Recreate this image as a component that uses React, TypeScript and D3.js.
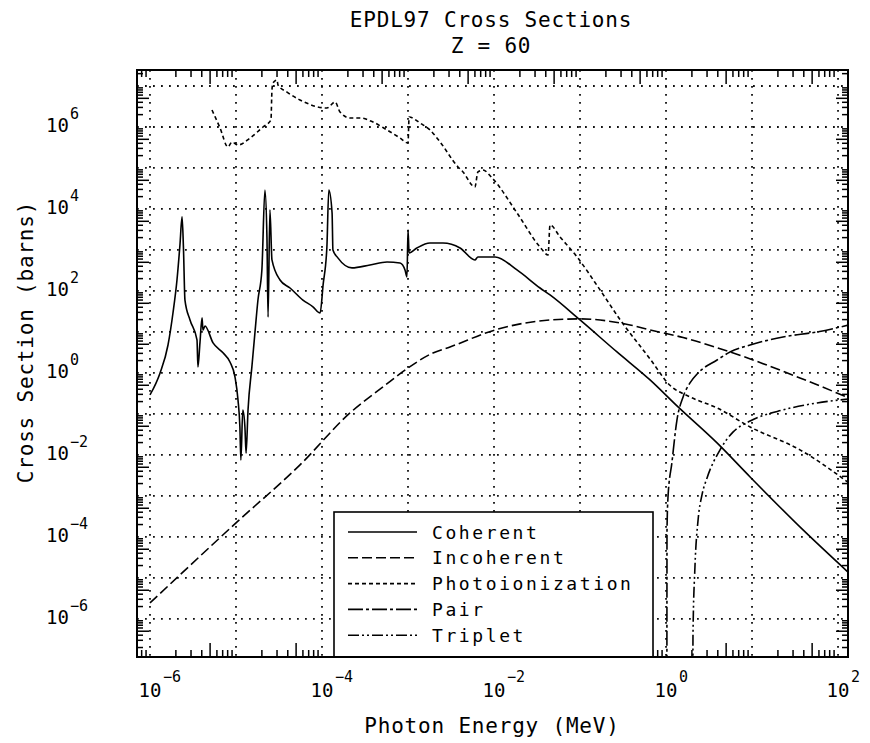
import React from 'react'
import * as d3 from 'd3'

type Pt = [number, number] // [photon energy (MeV), cross section (barns)]

const titleLines = ['EPDL97 Cross Sections', 'Z = 60']
const xTitle = 'Photon Energy (MeV)'
const yTitle = 'Cross Section (barns)'

// decade exponents used for labels and grid
const xLabelExps = [-6, -4, -2, 0, 2]
const yLabelExps = [6, 4, 2, 0, -2, -4, -6]
const xGridExps = [-6, -5, -4, -3, -2, -1, 0, 1, 2]
const yGridExps = [-6, -5, -4, -3, -2, -1, 0, 1, 2, 3, 4, 5, 6, 7]

const coherent: Pt[] = [
  [1.0e-6, 0.29], [1.31e-6, 1.0], [1.62e-6, 4.8], [1.85e-6, 29], [2.06e-6, 185],
  [2.23e-6, 1320], [2.36e-6, 6400], [2.45e-6, 1120], [2.55e-6, 60], [2.92e-6, 19.6],
  [3.52e-6, 6.4], [3.61e-6, 1.4], [3.81e-6, 5.4], [4.03e-6, 22], [4.13e-6, 11],
  [4.36e-6, 14], [5.41e-6, 5.4], [7.06e-6, 3.1], [8.51e-6, 1.85], [9.73e-6, 0.8],
  [1.055e-5, 0.22], [1.11e-5, 0.048], [1.14e-5, 0.0075], [1.2e-5, 0.125], [1.27e-5, 0.048],
  [1.31e-5, 0.011], [1.38e-5, 0.125], [1.53e-5, 1.4], [1.66e-5, 9.5], [1.8e-5, 60],
  [2.0e-5, 325], [2.17e-5, 29000], [2.29e-5, 2080], [2.36e-5, 23], [2.48e-5, 9500],
  [2.62e-5, 570], [3.25e-5, 185], [4.25e-5, 118], [6.0e-5, 60], [7.85e-5, 41],
  [9.5e-5, 29], [1.03e-4, 140], [1.14e-4, 1180], [1.2e-4, 29000], [1.31e-4, 8000],
  [1.34e-4, 1000], [1.53e-4, 640], [2.23e-4, 365], [3.61e-4, 430], [5.7e-4, 510],
  [8.07e-4, 480], [9.23e-4, 325], [9.73e-4, 220], [1.0e-3, 3100], [1.03e-3, 845],
  [1.27e-3, 1120], [1.8e-3, 1480], [2.55e-3, 1480], [4.03e-3, 1120], [6.0e-3, 570],
  [6.5e-3, 675], [1.03e-2, 675], [1.85e-2, 325], [3.43e-2, 118], [4.48e-2, 80],
  [0.1, 19.6], [0.269, 3.25], [0.652, 0.675], [1.38, 0.148], [3.92, 0.0196],
  [9.5, 0.0029], [39.2, 1.48e-4], [134, 1.32e-5],
]

const incoherent: Pt[] = [
  [1.0e-6, 2.45e-6], [1.03e-5, 2.32e-4], [5.55e-5, 5.7e-3], [2.12e-4, 0.106], [5.12e-4, 0.456],
  [1.0e-3, 1.32], [1.95e-3, 3.07], [3.08e-3, 4.3], [1.03e-2, 11.2], [4.48e-2, 19.6],
  [0.1, 20.8], [0.381, 14.8], [0.652, 11.2], [1.58, 7.3], [5.55, 3.25],
  [36.1, 0.755], [134, 0.245],
]

const photoionization: Pt[] = [
  [5.26e-6, 2.6e6], [6.52e-6, 9.5e5], [8.07e-6, 3.25e5], [8.98e-6, 4.3e5], [1.055e-5, 3.64e5],
  [1.46e-5, 5.4e5], [2.06e-5, 1.0e6], [2.55e-5, 1.48e6], [2.62e-5, 8.0e6], [2.69e-5, 1.18e7],
  [3.0e-5, 1.4e7], [3.08e-5, 1.06e7], [3.92e-5, 7.1e6], [5.55e-5, 4.56e6], [1.14e-4, 2.9e6],
  [1.42e-4, 4.07e6], [1.62e-4, 2.32e6], [2.12e-4, 1.66e6], [2.77e-4, 1.66e6], [3.92e-4, 1.32e6],
  [5.7e-4, 8.45e5], [8.07e-4, 5.4e5], [1.0e-3, 4.07e5], [1.03e-3, 1.75e6], [1.38e-3, 1.25e6],
  [1.8e-3, 8.45e5], [2.36e-3, 4.3e5], [3.81e-3, 1.06e5], [4.36e-3, 8.0e4], [6.0e-3, 3.44e4],
  [6.5e-3, 8.0e4], [7.45e-3, 8.9e4], [9.5e-3, 5.7e4], [1.85e-2, 8.0e3], [3.43e-2, 1.18e3],
  [4.25e-2, 755], [4.48e-2, 4.07e3], [5.85e-2, 2.08e3], [9.23e-2, 675], [0.171, 106],
  [0.292, 20], [0.652, 2.2], [1.11, 0.5], [1.9, 0.26], [3.92, 0.14],
  [9.5, 0.048], [36.1, 0.0133], [134, 2.07e-3],
]

const pair: Pt[] = [
  [1.023, 1e-9], [1.027, 1.48e-4], [1.055, 9.5e-4], [1.17, 6.4e-3], [1.34, 0.071],
  [1.58, 0.26], [1.9, 0.57], [2.36, 1.0], [3.92, 2.07], [5.55, 3.25],
  [9.5, 4.8], [22.9, 7.55], [57, 10], [134, 14.8],
]

const triplet: Pt[] = [
  [2.045, 1e-9], [2.06, 4.5e-7], [2.17, 1.85e-5], [2.36, 2.6e-4], [2.62, 1.06e-3],
  [3.0, 2.75e-3], [4.25, 0.0133], [6.0, 0.036], [9.5, 0.067], [22.9, 0.125],
  [57, 0.185], [134, 0.232],
]

const seriesNames = ['Coherent', 'Incoherent', 'Photoionization', 'Pair', 'Triplet']
const seriesData = [coherent, incoherent, photoionization, pair, triplet]
const seriesDash = ['none', '10,4', '4,3', '15,3,3,3', '11,3,2,3,2,3']

const font = "'DejaVu Sans Mono', monospace"

const expText = (e: number) => (e < 0 ? '\u2212' + Math.abs(e) : String(e))

export default function App() {
  const width = 870
  const height = 743
  const left = 137, right = 848, top = 70, bottom = 657

  const x = d3.scaleLog().domain([10 ** -6.151, 10 ** 2.116]).range([left, right])
  const y = d3.scaleLog().domain([10 ** -6.93, 10 ** 7.39]).range([bottom, top])

  const line = d3.line<Pt>()
    .x(d => x(d[0]))
    .y(d => y(d[1]))
    .curve(d3.curveMonotoneX)

  // minor ticks 2..9 in each decade
  const minor = (scale: d3.ScaleLogarithmic<number, number>) => {
    const [d0, d1] = scale.domain()
    const out: { v: number, long: boolean }[] = []
    for (let k = Math.floor(Math.log10(d0)); k <= Math.ceil(Math.log10(d1)); k++) {
      for (let m = 2; m <= 9; m++) {
        const v = m * 10 ** k
        if (v > d0 && v < d1) out.push({ v, long: m === 5 })
      }
    }
    return out
  }
  const xMinor = minor(x)
  const yMinor = minor(y)

  const legend = { x0: 334, y0: 512, x1: 653, row: 25.8 }

  return (
    <svg width={width} height={height} style={{ position: 'absolute', left: 0, top: 0, background: '#fff' }}
      fontFamily={font}>
      <defs>
        <clipPath id="plot">
          <rect x={left} y={top} width={right - left} height={bottom - top} />
        </clipPath>
      </defs>

      {/* title */}
      {titleLines.map((t, i) => (
        <text key={t} x={491} y={27 + i * 26} textAnchor="middle" fontSize={21} letterSpacing={0.8}>{t}</text>
      ))}

      {/* dotted grid */}
      <g stroke="#111" strokeWidth={1.8} strokeDasharray="1.8,6.2">
        {xGridExps.map(e => (
          <line key={'gx' + e} x1={x(10 ** e)} x2={x(10 ** e)} y1={top} y2={bottom} />
        ))}
        {yGridExps.map(e => (
          <line key={'gy' + e} x1={left} x2={right} y1={y(10 ** e)} y2={y(10 ** e)} />
        ))}
      </g>

      {/* curves */}
      <g clipPath="url(#plot)" fill="none" stroke="#000" strokeWidth={1.6}>
        {seriesData.map((d, i) => (
          <path key={seriesNames[i]} d={line(d) ?? ''} strokeDasharray={seriesDash[i]} />
        ))}
      </g>

      {/* ticks */}
      <g stroke="#000" strokeWidth={1.5}>
        {xMinor.map(t => (
          <g key={'tx' + t.v}>
            <line x1={x(t.v)} x2={x(t.v)} y1={bottom} y2={bottom - (t.long ? 14 : 7)} />
            <line x1={x(t.v)} x2={x(t.v)} y1={top} y2={top + (t.long ? 14 : 7)} />
          </g>
        ))}
        {yMinor.map(t => (
          <g key={'ty' + t.v}>
            <line x1={left} x2={left + (t.long ? 12 : 6)} y1={y(t.v)} y2={y(t.v)} />
            <line x1={right} x2={right - (t.long ? 12 : 6)} y1={y(t.v)} y2={y(t.v)} />
          </g>
        ))}
      </g>

      {/* legend */}
      <rect x={legend.x0} y={legend.y0} width={legend.x1 - legend.x0} height={bottom - legend.y0}
        fill="#fff" stroke="#000" strokeWidth={1.6} />
      {seriesNames.map((name, i) => {
        const cy = legend.y0 + 20 + i * legend.row
        return (
          <g key={'lg' + name}>
            <line x1={348} x2={417} y1={cy} y2={cy} stroke="#000" strokeWidth={1.6}
              strokeDasharray={seriesDash[i]} />
            <text x={432} y={cy + 6.5} fontSize={18} letterSpacing={2.6}>{name}</text>
          </g>
        )
      })}

      {/* frame */}
      <rect x={left} y={top} width={right - left} height={bottom - top} fill="none" stroke="#000" strokeWidth={2} />

      {/* x tick labels */}
      {xLabelExps.map(e => (
        <g key={'xl' + e}>
          <text x={x(10 ** e)} y={697} textAnchor="middle" fontSize={19}>10</text>
          <text x={x(10 ** e) + 13} y={682} fontSize={15}>{expText(e)}</text>
        </g>
      ))}

      {/* y tick labels */}
      {yLabelExps.map(e => (
        <g key={'yl' + e}>
          <text x={46} y={y(10 ** e) + 5} fontSize={19}>10</text>
          <text x={70} y={y(10 ** e) - 8} fontSize={15}>{expText(e)}</text>
        </g>
      ))}

      {/* axis titles */}
      <text x={492} y={733} textAnchor="middle" fontSize={21} letterSpacing={0.8}>{xTitle}</text>
      <text transform="translate(33,342) rotate(-90)" textAnchor="middle" fontSize={21} letterSpacing={0.8}>{yTitle}</text>
    </svg>
  )
}
